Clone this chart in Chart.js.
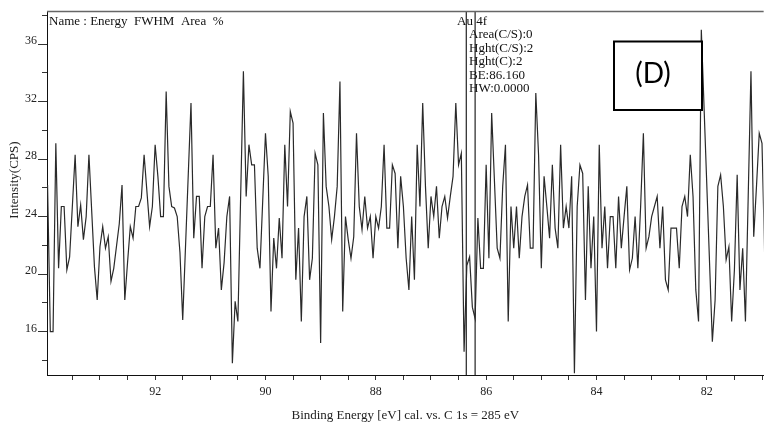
<!DOCTYPE html>
<html>
<head>
<meta charset="utf-8">
<script src="https://cdn.jsdelivr.net/npm/chart.js@4.4.1/dist/chart.umd.min.js"></script>
<style>
html, body { margin: 0; padding: 0; background: #fff; }
</style>
</head>
<body>
<canvas id="graficaAu4f" width="767" height="427"></canvas>
<script>
const energias = [
  93.95, 93.90, 93.85, 93.80, 93.75, 93.70, 93.65, 93.60, 93.55, 93.45, 93.40, 93.35, 93.30, 93.25, 93.20,
  93.10, 93.05, 93.00, 92.95, 92.90, 92.85, 92.80, 92.75, 92.65, 92.60, 92.55, 92.50, 92.45, 92.40,
  92.35, 92.30, 92.25, 92.20, 92.10, 92.05, 92.00, 91.95, 91.90, 91.85, 91.80, 91.75, 91.70, 91.65, 91.60,
  91.55, 91.50, 91.35, 91.30, 91.25, 91.20, 91.15, 91.10, 91.05, 91.00, 90.95, 90.90, 90.85, 90.80,
  90.75, 90.70, 90.65, 90.60, 90.55, 90.50, 90.40, 90.35, 90.30, 90.25, 90.20, 90.15, 90.10, 90.00, 89.95,
  89.90, 89.85, 89.80, 89.75, 89.70, 89.65, 89.60, 89.55, 89.50, 89.45, 89.40, 89.35, 89.30, 89.25, 89.20,
  89.15, 89.10, 89.05, 89.00, 88.95, 88.90, 88.85, 88.80, 88.75, 88.70, 88.65, 88.60, 88.55, 88.50, 88.45,
  88.40, 88.35, 88.30, 88.25, 88.20, 88.15, 88.10, 88.05, 88.00, 87.95, 87.90, 87.85, 87.80, 87.75, 87.70,
  87.65, 87.60, 87.55,
  87.50, 87.45, 87.40, 87.35, 87.30, 87.25, 87.20, 87.15, 87.10, 87.05, 87.00, 86.95, 86.90, 86.85, 86.80,
  86.75, 86.70, 86.65, 86.60, 86.55, 86.50, 86.45, 86.40, 86.35, 86.30, 86.25, 86.20, 86.15, 86.10, 86.05,
  86.00, 85.95, 85.90,
  85.80, 85.75, 85.70, 85.65, 85.60, 85.55, 85.50, 85.45, 85.40, 85.35, 85.30, 85.25, 85.20, 85.15, 85.10,
  85.05, 85.00, 84.95, 84.90, 84.85, 84.80, 84.75, 84.70, 84.65, 84.60, 84.55, 84.50, 84.45, 84.40, 84.35,
  84.30,
  84.25, 84.20, 84.15, 84.10, 84.05, 84.00, 83.95, 83.90, 83.85, 83.80, 83.75, 83.70, 83.65, 83.60, 83.55,
  83.50, 83.45, 83.40, 83.35, 83.30, 83.25, 83.20, 83.15, 83.10, 83.05, 83.00, 82.95, 82.90, 82.85, 82.80,
  82.75, 82.70,
  82.65, 82.60, 82.55, 82.50, 82.45, 82.40, 82.35, 82.30, 82.25, 82.20, 82.15, 82.10, 81.90, 81.85, 81.80,
  81.75, 81.70, 81.65, 81.60, 81.55, 81.50, 81.45, 81.40, 81.35, 81.30, 81.25, 81.20, 81.15, 81.10, 81.05,
  81.00, 80.95
];
const intensidades = [
  26.2, 16.0, 16.0, 29.1, 20.4, 24.7, 24.7, 20.3, 21.2, 28.3, 23.3, 24.8, 22.4, 24.0, 28.3,
  20.5, 18.2, 21.9, 23.3, 21.8, 22.6, 19.5, 20.4, 23.5, 26.2, 18.2, 20.8, 23.3, 22.5,
  24.7, 24.7, 25.3, 28.3, 23.3, 24.7, 29.0, 26.8, 24.0, 24.0, 32.7, 26.1, 24.7, 24.6, 24.0,
  21.5, 16.8, 31.9, 22.5, 25.4, 25.4, 20.4, 24.0, 24.7, 24.7, 28.3, 21.8, 23.2, 18.9,
  20.8, 24.0, 25.4, 13.8, 18.1, 16.7, 34.1, 25.4, 29.0, 27.6, 27.6, 21.8, 20.4, 29.8, 26.8,
  17.4, 22.5, 20.4, 23.9, 21.1, 29.0, 24.7, 31.3, 30.5, 19.6, 23.2, 16.7, 24.0, 25.4, 19.6,
  21.1, 28.4, 27.6, 15.2, 31.2, 26.1, 24.7, 22.4, 24.0, 26.1, 33.4, 17.4, 24.0, 22.4, 21.1,
  22.6, 29.8, 24.7, 23.1, 25.4, 23.2, 24.0, 21.1, 24.0, 23.2, 24.7, 29.0, 23.2, 23.2, 27.6,
  27.0, 21.8, 26.8,
  24.7, 21.1, 18.9, 24.0, 19.6, 29.0, 24.7, 31.9, 26.1, 21.8, 25.4, 24.0, 26.1, 22.5, 24.7,
  25.4, 23.9, 25.4, 26.8, 31.9, 27.6, 28.4, 14.6, 20.6, 21.2, 17.7, 16.9, 23.9, 20.4, 20.4,
  27.6, 21.1, 31.2,
  21.8, 21.1, 26.1, 29.0, 16.7, 24.7, 21.8, 24.7, 21.1, 24.0, 25.4, 26.2, 21.8, 21.8, 32.6,
  28.3, 20.4, 26.8, 24.7, 22.5, 27.6, 23.2, 21.8, 29.0, 23.2, 24.7, 23.2, 26.8, 13.1, 24.7,
  27.6,
  27.0, 18.2, 26.1, 20.4, 24.0, 16.0, 29.0, 21.8, 24.7, 20.4, 24.0, 24.0, 20.4, 25.4, 21.8,
  24.0, 26.1, 20.3, 21.1, 24.0, 20.4, 24.7, 29.8, 21.8, 22.6, 24.0, 24.7, 25.4, 21.8, 24.7,
  19.6, 18.9,
  23.2, 23.2, 23.2, 20.4, 24.7, 25.4, 24.0, 28.3, 25.4, 18.9, 16.7, 37.0, 15.3, 18.2, 26.1,
  26.9, 24.7, 21.0, 21.9, 16.7, 20.3, 26.9, 18.9, 21.8, 16.7, 25.4, 34.1, 22.6, 26.1, 29.8,
  29.1, 21.0
];
// lineas verticales del marcador de pico (eV)
const marcadoresBE = [86.36, 86.20];

const rangoX = [80.97, 93.96];
const rangoY = [12.98, 38.3];

const textoCabecera = 'Name : Energy  FWHM  Area  %';
const textoPico = 'Au 4f';
const textoInfo = ['Area(C/S):0', 'Hght(C/S):2', 'Hght(C):2', 'BE:86.160', 'HW:0.0000'];
const textoPanel = '(D)';

const SERIF = "'Liberation Serif', 'Times New Roman', serif";

function esMultiplo(v, m) {
  return Math.abs(v / m - Math.round(v / m)) < 1e-6;
}

// marco superior, titulo Y, textos y recuadro (D)
const decoracion = {
  id: 'decoracion',
  afterDraw(chart) {
    const ctx = chart.ctx;
    const area = chart.chartArea;
    ctx.save();
    ctx.strokeStyle = '#666';
    ctx.lineWidth = 1.5;
    ctx.beginPath();
    ctx.moveTo(area.left, area.top + 0.5);
    ctx.lineTo(area.right, area.top + 0.5);
    ctx.stroke();

    ctx.fillStyle = '#111';
    ctx.textBaseline = 'middle';
    ctx.textAlign = 'left';
    ctx.font = '13px ' + SERIF;
    ctx.fillText(textoCabecera, 49, 22);
    ctx.fillText(textoPico, 457, 22);
    textoInfo.forEach((t, i) => ctx.fillText(t, 469, 35 + i * 13.5));

    ctx.save();
    ctx.translate(15, 180);
    ctx.rotate(-Math.PI / 2);
    ctx.textAlign = 'center';
    ctx.fillStyle = '#222';
    ctx.fillText('Intensity(CPS)', 0, 0);
    ctx.restore();

    ctx.fillStyle = '#fff';
    ctx.fillRect(614, 41.5, 88, 68.5);
    ctx.strokeStyle = '#000';
    ctx.lineWidth = 2;
    ctx.strokeRect(614, 41.5, 88, 68.5);
    ctx.fillStyle = '#000';
    ctx.textAlign = 'center';
    ctx.font = "28px Lato, 'Open Sans', sans-serif";
    ctx.fillText(textoPanel, 653, 74);
    ctx.restore();
  }
};

const ctx = document.getElementById('graficaAu4f').getContext('2d');
new Chart(ctx, {
  type: 'line',
  data: {
    datasets: [
      {
        data: energias.map((e, i) => ({ x: e, y: intensidades[i] })),
        borderColor: '#2a2a2a',
        borderWidth: 1.2,
        pointRadius: 0,
        tension: 0,
        fill: false
      },
      ...marcadoresBE.map(be => ({
        data: [{ x: be, y: rangoY[0] }, { x: be, y: rangoY[1] }],
        borderColor: '#222',
        borderWidth: 1.2,
        pointRadius: 0,
        fill: false
      }))
    ]
  },
  options: {
    responsive: false,
    animation: false,
    layout: { padding: { top: 11, right: 0, left: 0, bottom: 0 } },
    plugins: { legend: { display: false }, tooltip: { enabled: false } },
    scales: {
      x: {
        type: 'linear',
        reverse: true,
        min: rangoX[0],
        max: rangoX[1],
        afterFit: s => { s.height = 52; },
        border: { color: '#111', width: 1 },
        grid: { drawOnChartArea: false, tickLength: 5, color: '#333' },
        ticks: {
          stepSize: 0.5,
          autoSkip: false,
          includeBounds: false,
          maxRotation: 0,
          padding: 5,
          color: '#222',
          font: { family: SERIF, size: 12 },
          callback: v => esMultiplo(v, 2) ? String(Math.round(v)) : ''
        },
        title: {
          display: true,
          text: 'Binding Energy [eV] cal. vs. C 1s = 285 eV',
          color: '#222',
          font: { family: SERIF, size: 13 },
          padding: { top: 0, bottom: 4 }
        }
      },
      // eje principal: marcas largas con etiqueta cada 4 CPS
      y: {
        weight: 1,
        min: rangoY[0],
        max: rangoY[1],
        afterFit: s => { s.width = 47; },
        border: { color: '#111', width: 1 },
        grid: { drawOnChartArea: false, tickLength: 9, color: '#333' },
        ticks: {
          stepSize: 4,
          includeBounds: false,
          autoSkip: false,
          padding: 1,
          labelOffset: -3,
          color: '#222',
          font: { family: SERIF, size: 12 },
          callback: v => String(Math.round(v))
        }
      },
      // marcas cortas cada 2 CPS
      yMenor: {
        position: 'left',
        weight: 0,
        min: rangoY[0],
        max: rangoY[1],
        afterFit: s => { s.width = 0; },
        border: { color: '#111', width: 1 },
        grid: { drawOnChartArea: false, tickLength: 5, color: '#333' },
        ticks: {
          stepSize: 2,
          includeBounds: false,
          autoSkip: false,
          padding: 0,
          callback: () => ''
        }
      }
    }
  },
  plugins: [decoracion]
});
</script>
</body>
</html>
